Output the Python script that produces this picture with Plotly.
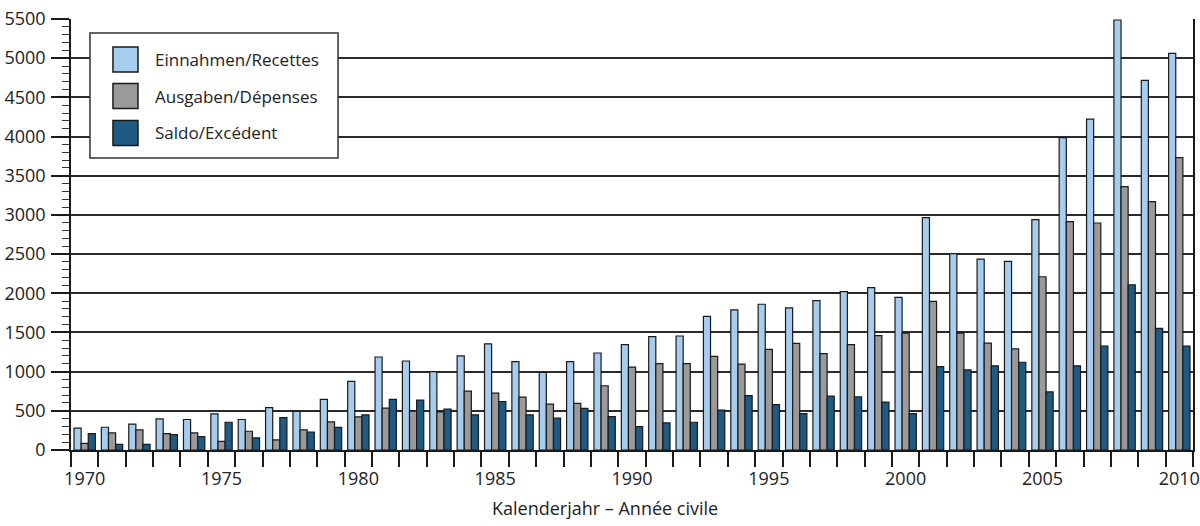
import plotly.graph_objects as go

years = list(range(1970, 2011))
einnahmen = [280, 290, 330, 397, 389, 461, 389, 542, 491, 647,
             875, 1187, 1136, 1000, 1200, 1354, 1127, 991, 1127, 1238,
             1344, 1446, 1455, 1706, 1787, 1860, 1813, 1907, 2022, 2073,
             1948, 2965, 2505, 2437, 2407, 2939, 3987, 4222, 5487, 4716, 5061]
ausgaben = [85, 218, 256, 209, 218, 111, 239, 128, 256, 358,
            423, 534, 495, 487, 751, 726, 675, 585, 594, 820,
            1058, 1101, 1101, 1194, 1096, 1284, 1361, 1229, 1344, 1460,
            1491, 1896, 1491, 1363, 1291, 2211, 2914, 2897, 3361, 3169, 3732]
saldo = [209, 73, 73, 196, 171, 354, 154, 414, 230, 288,
         448, 645, 636, 521, 448, 619, 448, 406, 530, 425,
         299, 346, 354, 508, 695, 580, 465, 687, 678, 612,
         464, 1065, 1022, 1074, 1120, 741, 1074, 1325, 2109, 1551, 1325]

names = ["Einnahmen/Recettes", "Ausgaben/Dépenses", "Saldo/Excédent"]
colors = ["#a7cdee", "#9a9a9a", "#1e5a82"]
label_years = [1970, 1975, 1980, 1985, 1990, 1995, 2000, 2005, 2010]

FONT = "Open Sans"
fig = go.Figure()
for vals, name, col in zip([einnahmen, ausgaben, saldo], names, colors):
    fig.add_trace(go.Bar(x=years, y=vals, name=name, marker_color=col,
                         marker_line=dict(color="#1a1a1a", width=1.2),
                         showlegend=False))

fig.update_layout(
    width=1200, height=526,
    margin=dict(l=71, r=7, t=19, b=76),
    paper_bgcolor="white", plot_bgcolor="white",
    barmode="group", bargap=0.22, bargroupgap=0,
    font=dict(family=FONT, size=18, color="#222"),
)
fig.update_xaxes(
    automargin=False,
    range=[1969.5, 2010.5], tickmode="array", tickvals=label_years,
    ticktext=[str(y) for y in label_years], ticks="", ticklabelstandoff=12,
    showline=True, linecolor="#1a1a1a", linewidth=1.5, showgrid=False,
    zeroline=False,
    minor=dict(tickmode="array", tickvals=[y + 0.5 for y in range(1969, 2011)],
               ticks="outside", ticklen=15, tickwidth=1.5, tickcolor="#1a1a1a",
               showgrid=False),
)
fig.update_yaxes(
    automargin=False,
    range=[0, 5500], dtick=500, tick0=0, ticks="outside", ticklen=18,
    tickwidth=1.5, tickcolor="#1a1a1a",
    showgrid=True, gridcolor="#2a2a2a", gridwidth=1.5,
    showline=True, linecolor="#1a1a1a", linewidth=1.5, mirror=True,
    zeroline=False, ticklabelstandoff=2,
    minor=dict(dtick=100, ticks="outside", ticklen=7, tickwidth=1,
               tickcolor="#333", showgrid=False),
)

# legend box (drawn in paper coordinates)
fig.add_shape(type="rect", xref="paper", yref="paper",
              x0=0.0169, x1=0.238, y0=0.6775, y1=0.9675,
              line=dict(color="#333", width=1.5), fillcolor="white", layer="above")
row_y = [0.906, 0.8213, 0.7355]
for name, col, yy in zip(names, colors, row_y):
    fig.add_shape(type="rect", xref="paper", yref="paper",
                  x0=0.0374, x1=0.0597, y0=yy - 0.029, y1=yy + 0.029,
                  line=dict(color="#1a1a1a", width=1.5), fillcolor=col, layer="above")
    fig.add_annotation(text=name, xref="paper", yref="paper", x=0.0735, y=yy,
                       xanchor="left", yanchor="middle", showarrow=False,
                       font=dict(size=17, color="#222", family=FONT))

fig.add_annotation(text="Kalenderjahr – Année civile", xref="paper", yref="paper",
                   x=0.476, y=-0.1346, xanchor="center", yanchor="middle",
                   showarrow=False, font=dict(size=18, color="#222", family=FONT))
fig.write_html("out.html", config={"displayModeBar": False},
               post_script="document.body.style.margin='0';document.body.style.overflow='hidden';")
